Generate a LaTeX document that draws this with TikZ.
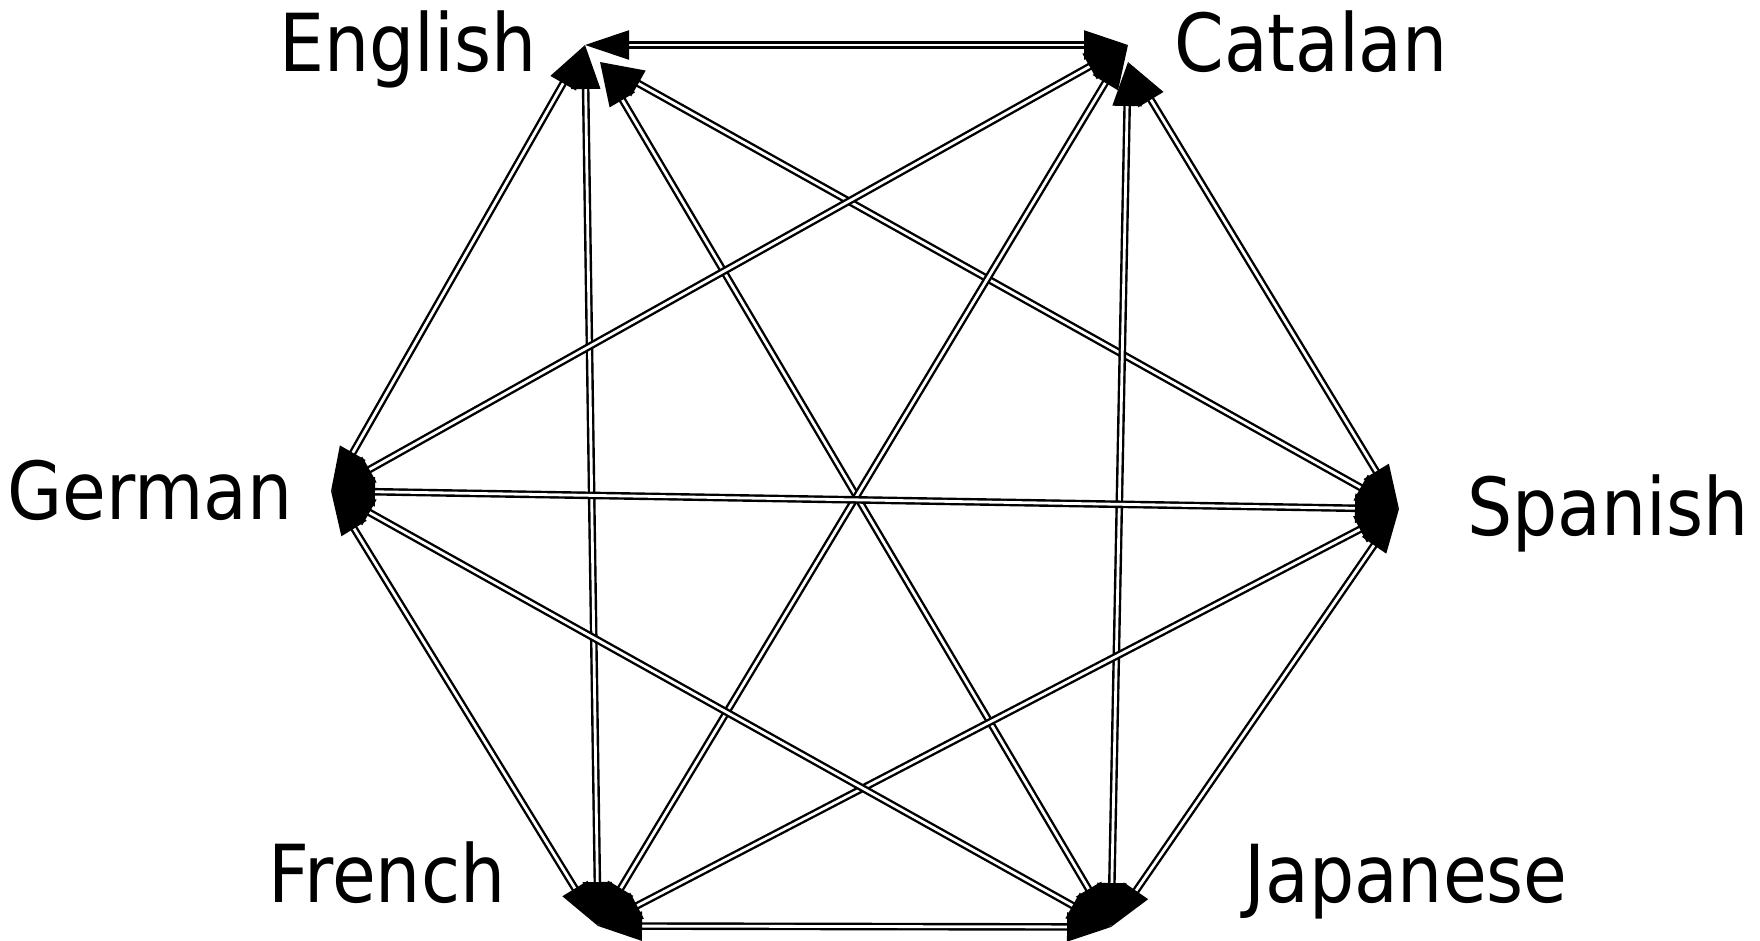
\documentclass[tikz,border=0pt]{standalone}
\usepackage{fontspec}
\setmainfont{DejaVu Sans}[FakeStretch=0.89]
\usetikzlibrary{arrows.meta}
\tikzset{
  lang/.style={inner sep=0pt, anchor=base, font=\fontsize{80}{90}\selectfont},
  pt/.style={coordinate},
  edge/.style={draw=black, line width=2.4pt, double=white, double distance=2.8pt,
    {Triangle[length=44pt,width=29pt]}-{Triangle[length=44pt,width=29pt]}}
}
\begin{document}
\begin{tikzpicture}[x=1pt,y=-1pt]
\useasboundingbox (0,0) rectangle (1760,940);
\node[pt] (en) at (585,45) {};
\node[pt] (en2) at (600,62) {};
\node[pt] (ca) at (1128,45) {};
\node[pt] (ca2) at (1128,62) {};
\node[pt] (es) at (1399,509) {};
\node[pt] (ja) at (1111,927) {};
\node[pt] (fr) at (598,926) {};
\node[pt] (de) at (331,491) {};
\node[lang] (enL) at (408,71) {English};
\node[lang] (caL) at (1311,71) {Catalan};
\node[lang] (deL) at (150,519) {German};
\node[lang] (esL) at (1608,535) {Spanish};
\node[lang] (frL) at (387,902) {French};
\node[lang] (jaL) at (1406,902) {Japanese};
\draw[edge] (en) -- (ca);
\draw[edge] (en) -- (de);
\draw[edge] (en) -- (fr);
\draw[edge] (en2) -- (ja);
\draw[edge] (en2) -- (es);
\draw[edge] (ca2) -- (es);
\draw[edge] (ca2) -- (ja);
\draw[edge] (ca) -- (fr);
\draw[edge] (ca) -- (de);
\draw[edge] (es) -- (ja);
\draw[edge] (es) -- (fr);
\draw[edge] (ja) -- (fr);
\draw[edge] (ja) -- (de);
\draw[edge] (fr) -- (de);
\draw[edge] (es) -- (de);
\end{tikzpicture}
\end{document}
